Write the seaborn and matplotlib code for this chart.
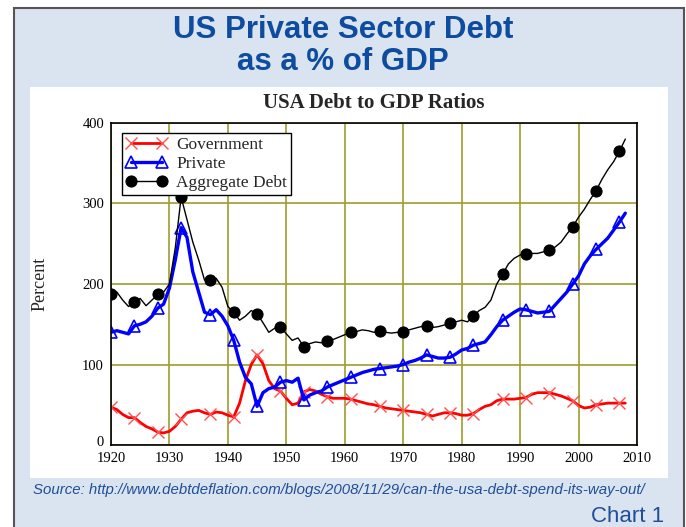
import matplotlib
matplotlib.use("Agg")
import matplotlib.pyplot as plt
import matplotlib.transforms as mtransforms
import seaborn as sns
import numpy as np
import pandas as pd
from matplotlib.patches import Rectangle

years = list(range(1920, 2009))

aggregate = [188, 190, 180, 172, 178, 182, 173, 180, 187, 190,
             200, 245, 308, 280, 252, 230, 205, 205, 207, 196,
             172, 165, 155, 160, 167, 163, 152, 140, 145, 147,
             138, 130, 133, 122, 126, 128, 127, 129, 131, 134,
             137, 140, 141, 143, 142, 140, 141, 140, 139, 140,
             140, 143, 145, 147, 148, 146, 147, 149, 151, 153,
             155, 153, 160, 167, 171, 180, 200, 212, 225, 232,
             236, 237, 238, 238, 240, 242, 246, 252, 262, 271,
             283, 293, 305, 316, 330, 342, 352, 365, 380]

private = [140, 142, 140, 138, 148, 150, 153, 160, 170, 175,
           195, 230, 270, 258, 215, 190, 165, 162, 168, 160,
           148, 130, 103, 84, 76, 48, 65, 70, 72, 78,
           80, 78, 83, 56, 62, 65, 67, 72, 75, 78,
           81, 84, 87, 90, 92, 94, 95, 96, 97, 98,
           100, 103, 105, 108, 112, 110, 108, 108, 109, 113,
           118, 120, 124, 126, 128, 137, 147, 155, 160, 165,
           169, 168, 166, 164, 165, 166, 174, 182, 190, 200,
           210, 225, 235, 243, 250, 257, 267, 277, 288]

government = [47, 44, 38, 34, 34, 28, 23, 20, 16, 15,
              17, 23, 32, 40, 42, 43, 40, 38, 41, 40,
              37, 35, 52, 80, 100, 112, 101, 80, 70, 67,
              58, 50, 52, 66, 69, 67, 63, 60, 58, 58,
              58, 57, 55, 53, 51, 50, 48, 46, 45, 44,
              43, 42, 41, 40, 38, 36, 38, 40, 40, 39,
              37, 37, 39, 44, 48, 50, 55, 57, 57, 57,
              58, 59, 63, 65, 65, 65, 63, 61, 58, 55,
              49, 46, 47, 50, 51, 52, 52, 52, 52]

series_names = ["Government", "Private", "Aggregate Debt"]
x_ticks = [1920, 1930, 1940, 1950, 1960, 1970, 1980, 1990, 2000, 2010]
y_ticks = [0, 100, 200, 300, 400]
marker_years = [1920, 1924, 1928, 1932, 1937, 1941, 1945, 1949, 1953, 1957, 1961,
                1966, 1970, 1974, 1978, 1982, 1987, 1991, 1995, 1999, 2003, 2007]

df = pd.DataFrame({"Year": years, "Government": government,
                   "Private": private, "Aggregate Debt": aggregate})
mk = [years.index(y) for y in marker_years]

sns.set_theme(style="white")
serif = ["Liberation Serif", "DejaVu Serif"]
plt.rcParams["font.family"] = serif

fig = plt.figure(figsize=(6.86, 5.27), dpi=100)
fig.patch.set_facecolor("white")
W, H = 686.0, 527.0

def box(x0, y0, x1, y1, **kw):
    fig.patches.append(Rectangle((x0 / W, 1 - y1 / H), (x1 - x0) / W, (y1 - y0) / H,
                                 transform=fig.transFigure, figure=fig, zorder=-10, **kw))

box(14, 8, 684, 540, facecolor="#dae3f0", edgecolor="#555555", lw=1.5)
box(30, 87, 668, 478, facecolor="white", edgecolor="none")

ax = fig.add_axes([111 / W, 1 - 445 / H, (637 - 111) / W, (445 - 123) / H])
ax.set_facecolor("white")

sns.lineplot(data=df, x="Year", y="Government", ax=ax, color="#ff0000", lw=2.0,
             marker="x", markersize=8, markeredgecolor="#ff5050", markeredgewidth=1.0,
             markevery=mk, label="Government")
sns.lineplot(data=df, x="Year", y="Private", ax=ax, color="#0000ff", lw=2.4,
             marker="^", markersize=8, markerfacecolor="none", markeredgecolor="#0000ff",
             markeredgewidth=1.2, markevery=mk, label="Private")
sns.lineplot(data=df, x="Year", y="Aggregate Debt", ax=ax, color="black", lw=1.0,
             marker="o", markersize=8, markerfacecolor="black", markeredgecolor="black",
             markevery=mk, label="Aggregate Debt")

ax.set_xlim(1920, 2010)
ax.set_ylim(0, 400)
ax.set_xticks(x_ticks)
ax.set_yticks(y_ticks)
ax.grid(True, color="#a09c2c", lw=1.2)
ax.set_axisbelow(True)
for s in ax.spines.values():
    s.set_color("black")
    s.set_linewidth(1.2)
ax.tick_params(axis="both", labelsize=10.5, length=0, colors="black")
ax.tick_params(axis="x", pad=5)
ax.tick_params(axis="y", pad=5)
for lab in ax.get_xticklabels() + ax.get_yticklabels():
    lab.set_family(serif)
zero_lab = ax.get_yticklabels()[0]
zero_lab.set_transform(zero_lab.get_transform() +
                       mtransforms.ScaledTranslation(0, 4 / 100.0, fig.dpi_scale_trans))
ax.set_xlabel("")
ax.set_ylabel("Percent", fontsize=13, labelpad=24, family=serif)
ax.set_title("USA Debt to GDP Ratios", fontsize=15, fontweight="bold", pad=11, family=serif)

leg = ax.legend(loc="upper left", bbox_to_anchor=(0.02, 0.97), numpoints=2,
                fancybox=False, frameon=True, edgecolor="black", framealpha=1,
                prop={"family": serif, "size": 12.5}, handlelength=2.4,
                borderpad=0.25, labelspacing=0.15, handletextpad=0.5, borderaxespad=0)
leg.get_frame().set_linewidth(1.0)

sans = ["Liberation Sans Narrow", "Liberation Sans", "DejaVu Sans"]
fig.text(0.5, 1 - 30 / H, "US Private Sector Debt", ha="center", va="center",
         fontsize=22.5, fontweight="bold", color="#0d4c9e", family=sans)
fig.text(0.5, 1 - 62 / H, "as a % of GDP", ha="center", va="center",
         fontsize=22.5, fontweight="bold", color="#0d4c9e", family=sans)
fig.text(33 / W, 1 - 490 / H,
         "Source: http://www.debtdeflation.com/blogs/2008/11/29/can-the-usa-debt-spend-its-way-out/",
         ha="left", va="center", fontsize=10.8, style="italic", color="#1f4f96",
         family=["Liberation Sans", "DejaVu Sans"])
fig.text(664 / W, 1 - 516 / H, "Chart 1", ha="right", va="center", fontsize=16,
         color="#1f4f96", family=["Liberation Sans", "DejaVu Sans"])

fig.savefig("out.png", dpi=100, facecolor=fig.get_facecolor())
